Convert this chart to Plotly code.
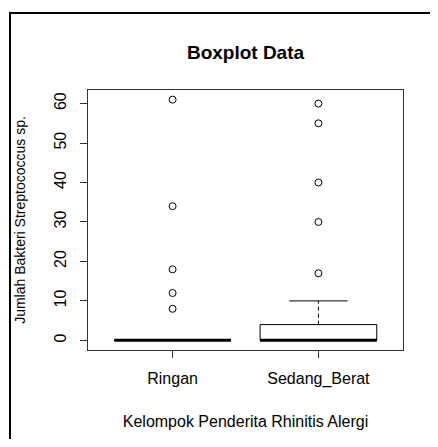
import plotly.graph_objects as go

categories = ["Ringan", "Sedang_Berat"]
positions = [1, 2]
q1 = [0, 0]
medians = [0, 0]
q3 = [0, 4]
lower_whisker = [0, 0]
upper_whisker = [0, 10]
outliers_ringan = [8, 12, 18, 34, 61]
outliers_sedang = [17, 30, 40, 55, 60]
outliers = [outliers_ringan, outliers_sedang]
y_ticks = [0, 10, 20, 30, 40, 50, 60]

half = 0.4
cap = 0.2
fig = go.Figure()
for p, a, m, b, lo, hi, out in zip(positions, q1, medians, q3, lower_whisker, upper_whisker, outliers):
    fig.add_trace(go.Scatter(x=[p, p], y=[b, hi], mode="lines",
                             line=dict(color="black", width=1, dash="4px,3px"), showlegend=False, hoverinfo="skip"))
    fig.add_trace(go.Scatter(x=[p, p], y=[a, lo], mode="lines",
                             line=dict(color="black", width=1, dash="4px,3px"), showlegend=False, hoverinfo="skip"))
    if hi > b:
        fig.add_trace(go.Scatter(x=[p - cap, p + cap], y=[hi, hi], mode="lines",
                                 line=dict(color="black", width=1), showlegend=False, hoverinfo="skip"))
    if lo < a:
        fig.add_trace(go.Scatter(x=[p - cap, p + cap], y=[lo, lo], mode="lines",
                                 line=dict(color="black", width=1), showlegend=False, hoverinfo="skip"))
    fig.add_trace(go.Scatter(x=[p - half, p + half, p + half, p - half, p - half],
                             y=[a, a, b, b, a], mode="lines", fill="toself", fillcolor="white",
                             line=dict(color="black", width=1), showlegend=False, hoverinfo="skip"))
    fig.add_trace(go.Scatter(x=[p - half, p + half], y=[m, m], mode="lines",
                             line=dict(color="black", width=3), showlegend=False, hoverinfo="skip"))
    fig.add_trace(go.Scatter(x=[p] * len(out), y=out, mode="markers",
                             marker=dict(symbol="circle-open", size=7, color="black", line=dict(width=1)),
                             showlegend=False))

font = "Liberation Sans, Arial, sans-serif"
# page has an 8px body margin; figure is sized so the plot lands where the reference has it
W, H = 430, 431
L, R, T, B = 80, 35, 82, 86
pw, ph = W - L - R, H - T - B

fig.update_layout(
    width=W, height=H,
    margin=dict(l=L, r=R, t=T, b=B),
    paper_bgcolor="white", plot_bgcolor="white",
    font=dict(family=font, size=16, color="black"),
    title=dict(text="<b>Boxplot Data</b>", x=(L + pw / 2) / W, xanchor="center",
               y=1 - 44 / H, yanchor="middle", font=dict(size=19, family=font)),
    xaxis=dict(range=[0.42, 2.58], tickvals=positions, ticktext=categories,
               showgrid=False, zeroline=False, showline=True, linecolor="#333", linewidth=1, mirror=True,
               ticks="outside", ticklen=7, tickcolor="#333", ticklabelstandoff=7,
               title=dict(text="Kelompok Penderita Rhinitis Alergi", standoff=28, font=dict(size=16)),
               tickfont=dict(size=16)),
    yaxis=dict(range=[-2.44, 63.44], tickvals=y_ticks, tickangle=-90,
               showgrid=False, zeroline=False, showline=True, linecolor="#333", linewidth=1, mirror=True,
               ticks="outside", ticklen=7, tickcolor="#333", ticklabelstandoff=8,
               title=dict(text="Jumlah Bakteri Streptococcus sp.", standoff=22, font=dict(size=14)),
               tickfont=dict(size=16)),
)

x0 = (2 - L) / pw
x1 = (W + 4 - L) / pw
y_top = (H - B - 4) / ph
y_bot = (H - B - H - 4) / ph
fig.add_shape(type="path", xref="paper", yref="paper",
              path=f"M {x0} {y_bot} L {x0} {y_top} L {x1} {y_top}",
              line=dict(color="black", width=2))

fig.write_html("out.html", config={"displayModeBar": False})
